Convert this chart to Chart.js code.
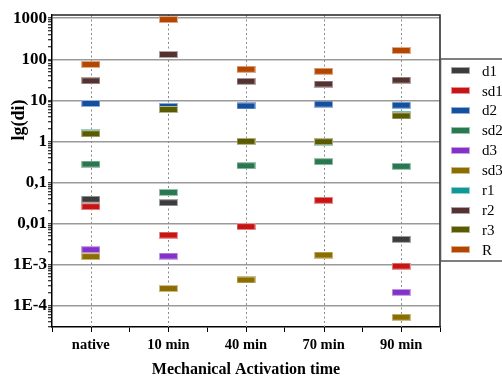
<!DOCTYPE html>
<html>
<head>
<meta charset="utf-8">
<script src="https://cdn.jsdelivr.net/npm/chart.js@4.4.1/dist/chart.umd.min.js"></script>
<style>
  html, body { margin: 0; padding: 0; background: #fff; }
  #wrap { width: 502px; height: 378px; }
</style>
</head>
<body>
<div id="wrap"><canvas id="c" width="502" height="378"></canvas></div>
<script>
// Categories along the x axis
const categories = ['native', '10 min', '40 min', '70 min', '90 min'];

// Series values (null = not measured)
const d1  = [0.039, 0.032, null, null, 0.0041];
const sd1 = [0.0257, 0.0052, 0.0084, 0.0367, 0.00091];
const d2  = [8.4, 7.1, 7.3, 8.1, 7.6];
const sd2 = [0.28, 0.057, 0.255, 0.32, 0.246];
const d3  = [0.0023, 0.0016, null, null, 0.00021];
const sd3 = [0.00156, 0.00026, 0.00042, 0.0017, 0.000052];
const r1  = [1.6, 6.0, 1.0, 0.95, 4.6];
const r2  = [30, 131, 29, 25, 31];
const r3  = [1.53, 6.0, 1.0, 0.98, 4.17];
const R   = [75, 930, 57, 51, 164];

// Decade tick labels (keyed by exponent)
const decadeExponents = [3, 2, 1, 0, -1, -2, -3, -4];
const decadeLabels    = ['1000', '100', '10', '1', '0,1', '0,01', '1E-3', '1E-4'];

const seriesNames  = ['d1', 'sd1', 'd2', 'sd2', 'd3', 'sd3', 'r1', 'r2', 'r3', 'R'];
const seriesValues = [d1, sd1, d2, sd2, d3, sd3, r1, r2, r3, R];
const seriesColors = ['#3c3c3c', '#c81414', '#1450a0', '#287850', '#8232c8',
                      '#8c6e00', '#109898', '#553232', '#5a5a00', '#b44600'];

const Y_MIN = 3e-5, Y_MAX = 1200;
const SERIF = '"Liberation Serif", "Times New Roman", serif';

function tint(hex, f) {
  const n = parseInt(hex.slice(1), 16);
  const r = (n >> 16) & 255, g = (n >> 8) & 255, b = n & 255;
  const m = v => Math.round(v + (255 - v) * f);
  return `rgb(${m(r)},${m(g)},${m(b)})`;
}

// Flat horizontal bar marker with a soft light rim
function markerImage(color) {
  const c = document.createElement('canvas');
  c.width = 19; c.height = 7;
  const g = c.getContext('2d');
  g.fillStyle = tint(color, 0.55);
  g.fillRect(0, 0, 19, 7);
  g.fillStyle = color;
  g.fillRect(1, 1, 17, 5);
  return c;
}
const markers = seriesColors.map(markerImage);

const isDecade = v => Math.abs(Math.log10(v) - Math.round(Math.log10(v))) < 1e-9;

// Log ticks: every k*10^e, labels only on decades
function buildLogTicks() {
  const out = [];
  for (let e = -5; e <= 3; e++) {
    for (let k = 1; k <= 9; k++) {
      const v = k * Math.pow(10, e);
      if (v >= Y_MIN && v <= Y_MAX) out.push({ value: v });
    }
  }
  return out;
}

const extras = {
  id: 'extras',
  beforeDatasetsDraw(chart) {
    const { ctx, chartArea: a, scales: { x } } = chart;
    ctx.save();
    categories.forEach((_, i) => {
      const px = Math.round(x.getPixelForValue(i)) + 0.5;
      ctx.strokeStyle = '#8a8a8a';
      ctx.lineWidth = 1;
      ctx.setLineDash([2, 2.5]);
      ctx.beginPath(); ctx.moveTo(px, a.top); ctx.lineTo(px, a.bottom); ctx.stroke();
      ctx.setLineDash([]);
      ctx.strokeStyle = '#000';
      ctx.beginPath(); ctx.moveTo(px, a.bottom); ctx.lineTo(px, a.bottom + 5); ctx.stroke();
    });
    ctx.restore();
  },
  afterDraw(chart) {
    const { ctx, chartArea: a } = chart;
    ctx.save();
    // frame: top and right edges
    ctx.strokeStyle = '#222';
    ctx.lineWidth = 1.5;
    ctx.beginPath();
    ctx.moveTo(a.left, a.top); ctx.lineTo(a.right, a.top); ctx.lineTo(a.right, a.bottom);
    ctx.stroke();

    // legend
    const lx = 440.5, ly = 59, lh = 202;
    ctx.fillStyle = '#fff';
    ctx.fillRect(lx, ly, 80, lh);
    ctx.strokeStyle = '#555';
    ctx.lineWidth = 1.5;
    ctx.strokeRect(lx, ly, 80, lh);
    ctx.font = '15px ' + SERIF;
    ctx.textBaseline = 'middle';
    ctx.textAlign = 'left';
    chart.data.datasets.forEach((ds, i) => {
      const cy = 70.7 + i * 19.9;
      ctx.drawImage(markers[i], 451, Math.round(cy - 3.5));
      ctx.fillStyle = '#000';
      ctx.fillText(ds.label, 482, cy + 1);
    });

    // axis titles
    ctx.fillStyle = '#000';
    ctx.font = 'bold 16px ' + SERIF;
    ctx.textAlign = 'center';
    ctx.textBaseline = 'middle';
    ctx.fillText('Mechanical Activation time', (a.left + a.right) / 2, 370);
    ctx.font = 'bold 18px ' + SERIF;
    ctx.translate(19, 120);
    ctx.rotate(-Math.PI / 2);
    ctx.fillText('lg(di)', 0, 0);
    ctx.restore();
  }
};

new Chart(document.getElementById('c'), {
  type: 'line',
  data: {
    labels: categories,
    datasets: seriesNames.map((name, i) => ({
      label: name,
      data: seriesValues[i],
      order: seriesNames.length - i,
      showLine: false,
      pointStyle: markers[i],
      pointRadius: 9,
      borderColor: seriesColors[i],
      backgroundColor: seriesColors[i]
    }))
  },
  options: {
    responsive: false,
    animation: false,
    events: [],
    layout: { padding: { top: 15, right: 62, left: 0, bottom: 0 } },
    plugins: { legend: { display: false }, tooltip: { enabled: false } },
    scales: {
      x: {
        type: 'category',
        offset: true,
        afterFit(s) { s.height = 51; },
        grid: { offset: true, drawOnChartArea: false, tickLength: 5, tickColor: '#000', tickWidth: 1 },
        border: { display: true, color: '#000', width: 1.5 },
        ticks: { color: '#000', padding: 5, font: { family: SERIF, size: 14.5, weight: 'bold' } }
      },
      y: {
        type: 'logarithmic',
        min: Y_MIN,
        max: Y_MAX,
        afterFit(s) { s.width = 52; },
        afterBuildTicks(s) { s.ticks = buildLogTicks(); },
        grid: {
          color: c => (c.tick && isDecade(c.tick.value)) ? '#9a9a9a' : 'rgba(0,0,0,0)',
          lineWidth: 1.5,
          tickColor: '#000',
          tickWidth: 1,
          tickLength: 4
        },
        border: { display: true, color: '#000', width: 1.5 },
        ticks: {
          autoSkip: false,
          padding: 1,
          color: '#000',
          font: { family: SERIF, size: 17, weight: 'bold' },
          callback(v) {
            if (!isDecade(v)) return '';
            const idx = decadeExponents.indexOf(Math.round(Math.log10(v)));
            return idx >= 0 ? decadeLabels[idx] : '';
          }
        }
      }
    }
  },
  plugins: [extras]
});
</script>
</body>
</html>
